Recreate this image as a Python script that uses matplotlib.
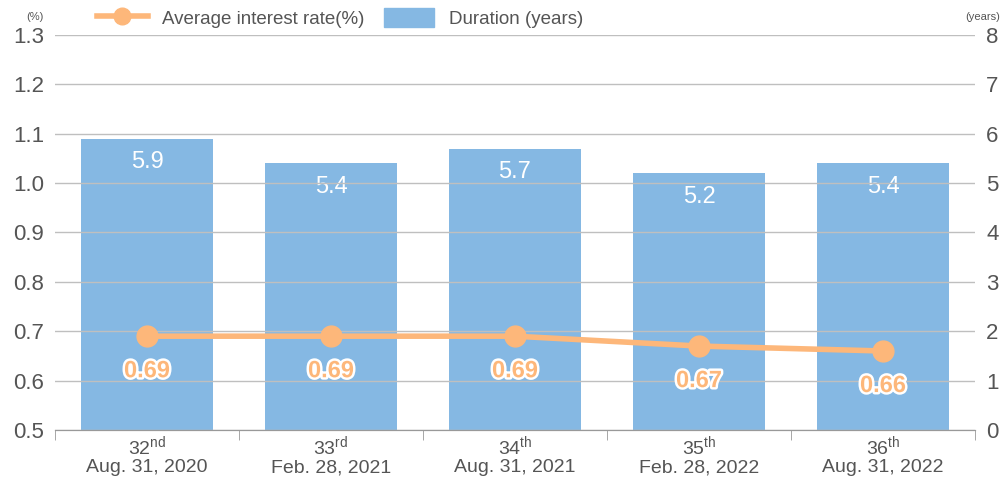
import matplotlib.pyplot as plt
import matplotlib.patheffects as pe
from matplotlib.lines import Line2D
from matplotlib.patches import Patch

plt.rcParams['font.family'] = ['Liberation Sans', 'DejaVu Sans']
plt.rcParams['mathtext.fontset'] = 'custom'
plt.rcParams['mathtext.rm'] = 'Liberation Sans'

periods = ["32$^{\\mathrm{nd}}$", "33$^{\\mathrm{rd}}$", "34$^{\\mathrm{th}}$", "35$^{\\mathrm{th}}$", "36$^{\\mathrm{th}}$"]
dates = ["Aug. 31, 2020", "Feb. 28, 2021", "Aug. 31, 2021", "Feb. 28, 2022", "Aug. 31, 2022"]
duration = [5.9, 5.4, 5.7, 5.2, 5.4]
rate = [0.69, 0.69, 0.69, 0.67, 0.66]

bar_color = "#85B8E3"
line_color = "#FDB77A"
text_color = "#555555"

fig = plt.figure(figsize=(10, 4.82), dpi=100)
ax = fig.add_axes([0.055, 0.1079, 0.92, 0.8195])
ax2 = ax.twinx()

x = list(range(len(duration)))

# bars on right axis (years)
ax2.bar(x, duration, width=0.72, color=bar_color, zorder=1)
for xi, v in zip(x, duration):
    ax2.text(xi, v - 0.48, f"{v}", ha="center", va="center", color="white", fontsize=17)
ax2.set_ylim(0, 8)
ax2.set_yticks(range(0, 9))
ax2.tick_params(axis="y", length=0, labelsize=16, labelcolor=text_color, pad=8)

# line on left axis (%) - draw on top
ax.set_zorder(ax2.get_zorder() + 1)
ax.patch.set_visible(False)
ax.plot(x, rate, color=line_color, lw=4, marker="o", ms=15, zorder=5, clip_on=False)
for xi, v in zip(x, rate):
    ax.text(xi, v - 0.07, f"{v:.2f}", ha="center", va="center", color=line_color,
            fontsize=17, fontweight="bold", zorder=6,
            path_effects=[pe.withStroke(linewidth=3.5, foreground="white")])
ax.set_ylim(0.5, 1.3)
ax.set_yticks([0.5 + 0.1 * i for i in range(9)])
ax.set_yticklabels([f"{0.5 + 0.1 * i:.1f}" for i in range(9)])
ax.tick_params(axis="y", length=0, labelsize=16, labelcolor=text_color, pad=8)
ax.grid(axis="y", color="#BFBFBF", lw=1)
ax2.set_axisbelow(True)

ax.set_xlim(-0.5, len(x) - 0.5)
ax.set_xticks(x)
ax.set_xticklabels([f"{p}\n{d}" for p, d in zip(periods, dates)], fontsize=14, color=text_color,
                   linespacing=1.05)
ax.tick_params(axis="x", length=0, pad=3)
ax.set_xticks([i - 0.5 for i in range(len(x) + 1)], minor=True)
ax.tick_params(axis="x", which="minor", length=7, color="#999999")

for a in (ax, ax2):
    for s in ("top", "left", "right"):
        a.spines[s].set_visible(False)
    a.spines["bottom"].set_color("#999999")

fig.text(0.035, 0.965, "(%)", fontsize=8, color=text_color, ha="center", va="center")
fig.text(0.983, 0.965, "(years)", fontsize=8, color=text_color, ha="center", va="center")

handles = [Line2D([], [], color=line_color, lw=4, marker="o", ms=12),
           Patch(color=bar_color)]
fig.legend(handles, ["Average interest rate(%)", "Duration (years)"],
           loc="center left", bbox_to_anchor=(0.080, 0.963), ncol=2, frameon=False,
           fontsize=13.5, labelcolor=text_color, handlelength=2.7, handletextpad=0.8,
           columnspacing=1.0, handleheight=1.2)

fig.savefig("out.png", dpi=100)
